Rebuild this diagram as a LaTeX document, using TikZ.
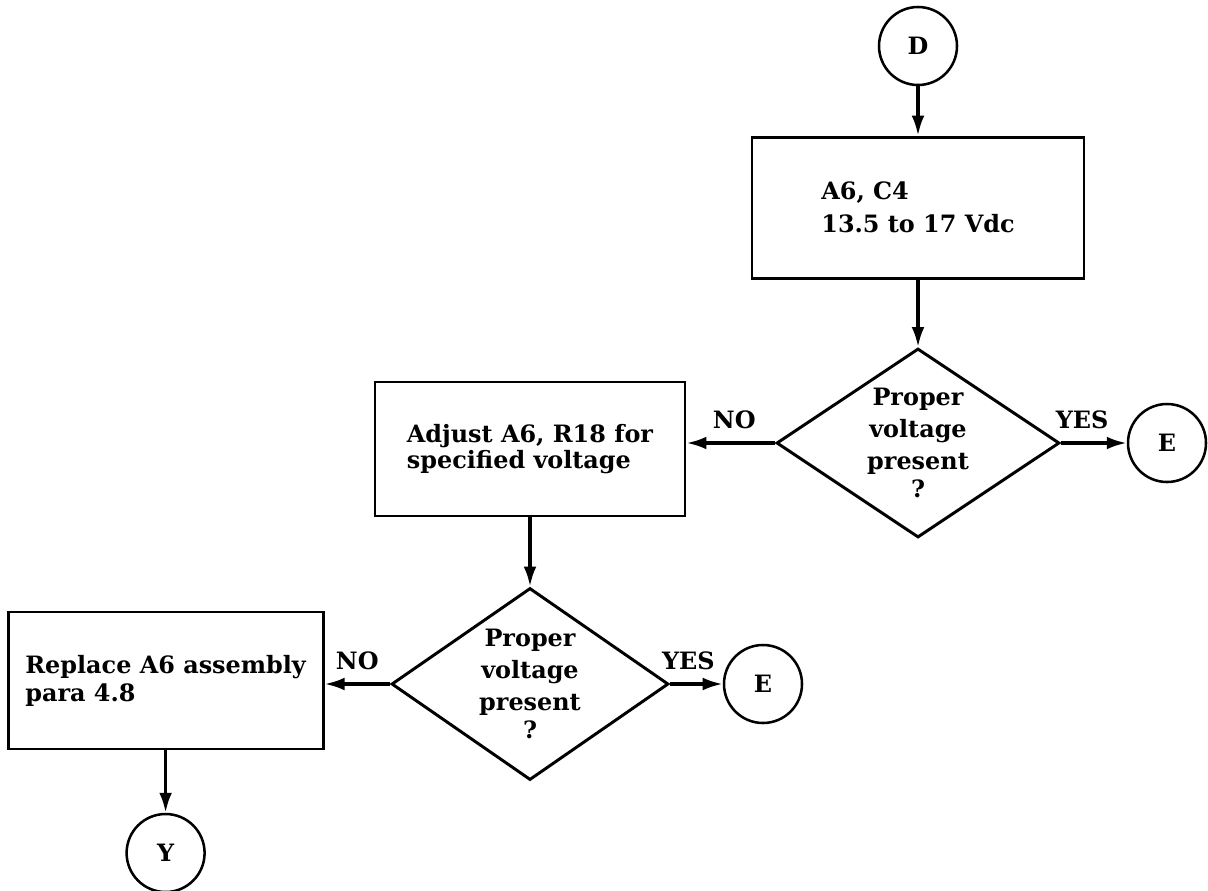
\documentclass[tikz,border=0pt]{standalone}
\usepackage{fontspec}
\setmainfont{DejaVu Serif}
\usetikzlibrary{arrows.meta, shapes.geometric, positioning}

\begin{document}
\begin{tikzpicture}[
    every node/.style={font=\fontsize{17}{20}\selectfont\bfseries},
    conn/.style={circle, draw, line width=1.8pt, minimum size=1.95cm, inner sep=0pt},
    stepbox/.style={rectangle, draw, line width=2.1pt, align=left, inner sep=0pt},
    check/.style={diamond, draw, line width=2.1pt, align=center, aspect=1.5, inner sep=-6pt},
    flow/.style={line width=2.3pt, -{Latex[length=5mm, width=3.2mm]}},
    answer/.style={above=9pt, inner sep=0pt}
]
    \useasboundingbox (0,0) rectangle (30.2,-22.25);

    \node[conn] (D) at (22.95,-1.15) {D};
    \node[stepbox, minimum width=8.3cm, minimum height=3.525cm] (measure) at (22.95,-5.19) {A6, C4\\[3.5pt]13.5 to 17 Vdc};
    \node[check, minimum width=7.075cm, minimum height=4.725cm] (check1) at (22.95,-11.075) {Proper\\[2.8pt]voltage\\[2.8pt]present\\?};
    \node[conn] (E1) at (29.175,-11.075) {E};

    \node[stepbox, minimum width=7.75cm, minimum height=3.35cm] (adjust) at (13.25,-11.225) {Adjust A6, R18 for\\[-1pt]specified voltage};
    \node[check, minimum width=6.925cm, minimum height=4.8cm] (check2) at (13.25,-17.1) {Proper\\[2.8pt]voltage\\[2.8pt]present\\?};
    \node[conn] (E2) at (19.075,-17.1) {E};

    \node[stepbox, minimum width=7.875cm, minimum height=3.425cm] (replace) at (4.14,-17.0125) {Replace A6 assembly\\para 4.8};
    \node[conn] (Y) at (4.14,-21.325) {Y};

    % upper branch
    \draw[flow] (D) -- (measure);
    \draw[flow] (measure) -- (check1);
    \draw[flow] (check1.west) -- node[answer, pos=0.46] {NO} (check1.west -| adjust.east);
    \draw[flow] (check1.east) -- node[answer, pos=0.32] {YES} (E1);

    % lower branch
    \draw[flow] (adjust) -- (check2);
    \draw[flow] (check2.west) -- node[answer] {NO} (check2.west -| replace.east);
    \draw[flow] (check2.east) -- node[answer, pos=0.35] {YES} (E2);
    \draw[flow] (replace) -- (Y);
\end{tikzpicture}
\end{document}
